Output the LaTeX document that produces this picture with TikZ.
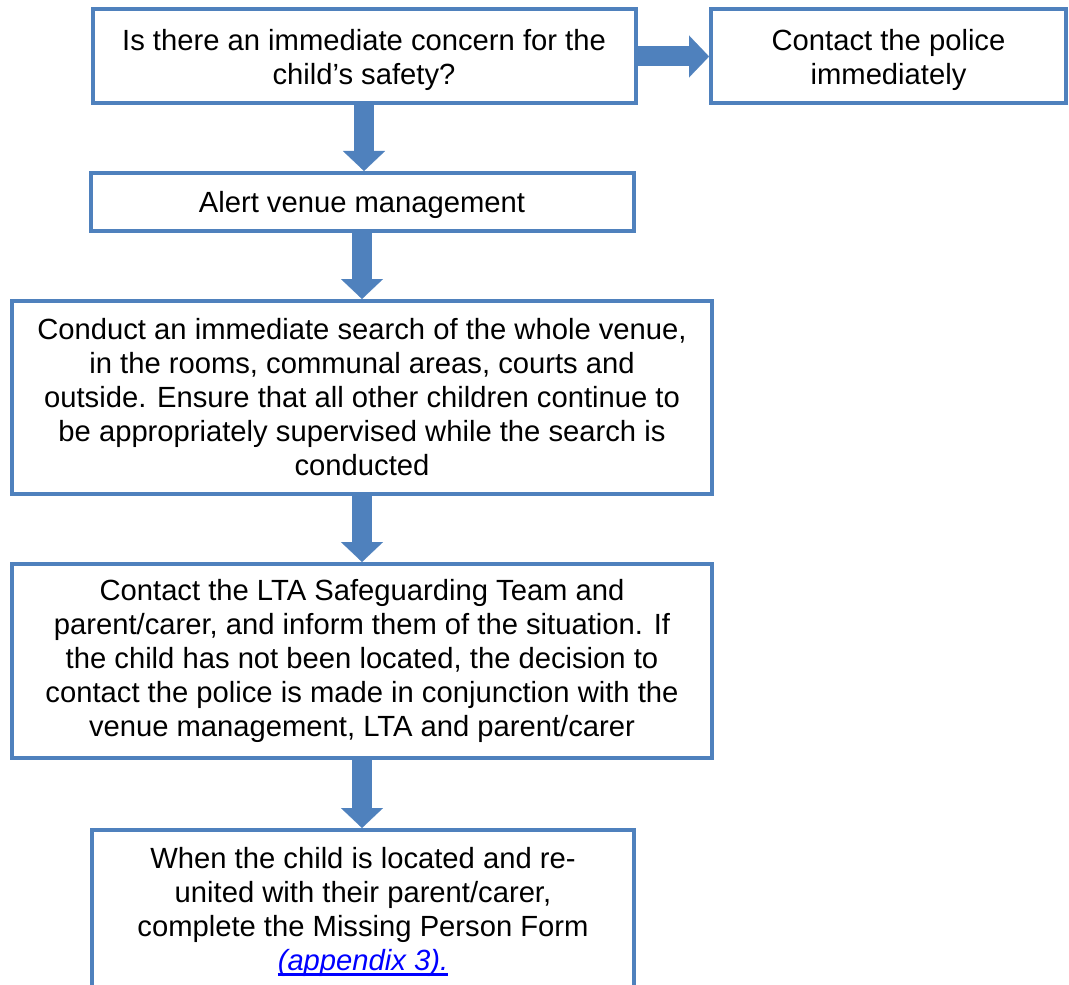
\documentclass[tikz,border=0pt]{standalone}
\usepackage{fontspec}
\setmainfont{Liberation Sans}
\usetikzlibrary{arrows.meta}
\definecolor{boxblue}{RGB}{79,129,189}
\definecolor{linkblue}{RGB}{0,0,255}
\newcommand{\linkul}[1]{\setbox0\hbox{#1}\rlap{\rule[-0.17em]{\wd0}{0.07em}}\box0}
\newcommand{\lowr}{\rule{0pt}{20.5pt}}
\begin{document}
\begin{tikzpicture}[x=0.75pt,y=-0.75pt,
	stepbox/.style={draw=boxblue, line width=3pt, fill=white, inner sep=0pt,
		align=center, font=\fontsize{21.9}{25.5}\selectfont},
	flow/.style={draw=boxblue, line width=15pt,
		-{Triangle[length=15pt,width=31.5pt,line width=0.1pt,fill=boxblue]}}]
	\useasboundingbox (0,0) rectangle (1069,984);
	\clip (0,0) rectangle (1069,984);
	\node [stepbox, minimum width=407.25pt, minimum height=70.5pt] (concern) at (364,56.5) {\lowr Is there an immediate concern for the\\child’s safety?};
	\node [stepbox, minimum width=266.25pt, minimum height=70.5pt] (police) at (888.5,56.5) {\lowr Contact the police\\immediately};
	\node [stepbox, minimum width=407.25pt, minimum height=43.5pt] (alert) at (362,202) {\lowr Alert venue management};
	\node [stepbox, minimum width=525pt, minimum height=144.75pt] (search) at (362,397.5) {Conduct an immediate search of the whole venue,\\in the rooms, communal areas, courts and\\outside. Ensure that all other children continue to\\be appropriately supervised while the search is\\conducted};
	\node [stepbox, minimum width=525pt, minimum height=145.5pt] (lta) at (362,661) {Contact the LTA Safeguarding Team and\\parent/carer, and inform them of the situation. If\\the child has not been located, the decision to\\contact the police is made in conjunction with the\\venue management, LTA and parent/carer};
	\node [stepbox, minimum width=406.5pt, minimum height=123pt] (found) at (363,912) {When the child is located and re-\\united with their parent/carer,\\complete the Missing Person Form\\{\color{linkblue}\itshape\linkul{(appendix 3).}}};
	\draw [flow] (concern.east) -- (police.west);
	\draw [flow] (concern.south) -- (concern.south |- alert.north);
	\draw [flow] (alert.south) -- (search.north);
	\draw [flow] (search.south) -- (lta.north);
	\draw [flow] (lta.south) -- (lta.south |- found.north);
\end{tikzpicture}
\end{document}
